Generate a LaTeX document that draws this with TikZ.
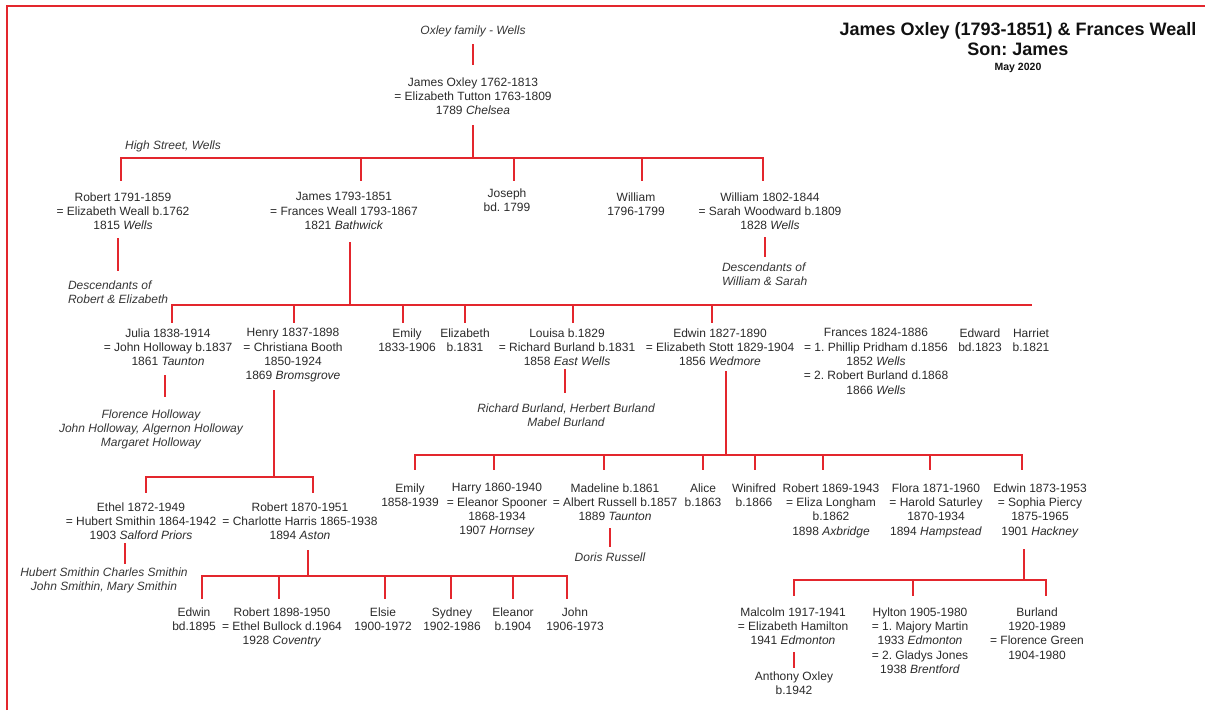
\documentclass[tikz,border=0pt]{standalone}
\usepackage{fontspec}
\setmainfont{Liberation Sans}
\usepackage{xcolor}
\usepackage{tikz}
\definecolor{cline}{HTML}{E3262D}
\definecolor{ctext}{HTML}{2A2A2A}
\definecolor{cnote}{HTML}{363636}
\definecolor{ctitle}{HTML}{111111}
\frenchspacing
\tikzset{
  person/.style={anchor=north,align=center,text=ctext,inner sep=2pt,outer sep=2pt,
    font=\fontsize{12}{14.3}\selectfont},
  kids/.style={person,text=cnote,font=\fontsize{12}{14.3}\selectfont\itshape},
  heading/.style={anchor=base,text=ctitle,font=\fontsize{18}{20}\selectfont\bfseries},
  kin/.style={draw=cline,line width=1.6pt,line cap=rect},
}
\begin{document}
\begin{tikzpicture}[x=1pt,y=-1pt]
  \useasboundingbox (0,0) rectangle (1205,710);
  \draw[cline,line width=2pt] (7,710) -- (7,6) -- (1205,6);

  \node[heading] (title) at (1018,35) {James Oxley (1793-1851) \& Frances Weall};
  \node[heading] (son) at (1018,55) {Son: James};
  \node[heading,font=\fontsize{10.5}{12}\selectfont\bfseries] (date) at (1018,70) {May 2020};

  \node[kids] (famnote) at (473,21.6) {Oxley family - Wells};
  \node[person] (root) at (473,73.6) {James Oxley 1762-1813\\= Elizabeth Tutton 1763-1809\\1789 \textit{Chelsea}};
  \node[kids] (highst) at (173,136.6) {High Street, Wells};
  \coordinate (bar1) at (473,158);
  \draw[kin,shorten <=4pt,shorten >=9.7pt] (famnote.south) -- (root.north);
  \draw[kin,shorten <=6.6pt] (root.south) -- (bar1);

  \node[person] (robert) at (123,188.6) {Robert 1791-1859\\= Elizabeth Weall b.1762\\1815 \textit{Wells}};
  \node[person] (james) at (344,188.6) {James 1793-1851\\= Frances Weall 1793-1867\\1821 \textit{Bathwick}};
  \node[person] (joseph) at (507,184.6) {Joseph\\bd. 1799};
  \node[person] (william) at (636,188.6) {William\\1796-1799};
  \node[person] (williamb) at (770,188.6) {William 1802-1844\\= Sarah Woodward b.1809\\1828 \textit{Wells}};
  \draw[kin,shorten <=8.7pt,shorten >=8.7pt] ([xshift=-2pt]robert.north) |- (bar1) -| ([xshift=-7pt]williamb.north);
  \draw[kin,shorten <=8.7pt] ([xshift=17pt]james.north) -- ([xshift=17pt]james.north |- bar1);
  \draw[kin,shorten <=4.7pt] ([xshift=7pt]joseph.north) -- ([xshift=7pt]joseph.north |- bar1);
  \draw[kin,shorten <=8.7pt] ([xshift=6pt]william.north) -- ([xshift=6pt]william.north |- bar1);

  \node[kids,anchor=north west,align=left] (rdesc) at (64,276.6) {Descendants of\\Robert \& Elizabeth};
  \node[kids,anchor=north west,align=left] (wdesc) at (718,258.6) {Descendants of\\William \& Sarah};
  \draw[kin,shorten <=4.6pt,shorten >=6.7pt] ([xshift=-5pt]robert.south) -- ([xshift=-5pt]robert.south |- rdesc.north);
  \draw[kin,shorten <=3.6pt,shorten >=2.7pt] ([xshift=-5pt]williamb.south) -- ([xshift=-5pt]williamb.south |- wdesc.north);

  \coordinate (bar2) at (350,305);
  \draw[kin,shorten <=8.6pt] ([xshift=6pt]james.south) -- (bar2);
  \node[person] (julia) at (168,324.6) {Julia 1838-1914\\= John Holloway b.1837\\1861 \textit{Taunton}};
  \node[person] (henry) at (293,324.6) {Henry 1837-1898\\= Christiana Booth\\1850-1924\\1869 \textit{Bromsgrove}};
  \node[person] (emily) at (407,324.6) {Emily\\1833-1906};
  \node[person] (eliz) at (465,324.6) {Elizabeth\\b.1831};
  \node[person] (louisa) at (567,324.6) {Louisa b.1829\\= Richard Burland b.1831\\1858 \textit{East Wells}};
  \node[person] (edwin) at (720,324.6) {Edwin 1827-1890\\= Elizabeth Stott 1829-1904\\1856 \textit{Wedmore}};
  \node[person] (frances) at (876,324.6) {Frances 1824-1886\\= 1. Phillip Pridham d.1856\\1852 \textit{Wells}\\= 2. Robert Burland d.1868\\1866 \textit{Wells}};
  \node[person] (edward) at (980,324.6) {Edward\\bd.1823};
  \node[person] (harriet) at (1031,324.6) {Harriet\\b.1821};
  \draw[kin,shorten <=2.7pt] ([xshift=4pt]julia.north) |- (bar2) -- (harriet.north |- bar2);
  \draw[kin,shorten <=2.7pt] ([xshift=1pt]henry.north) -- ([xshift=1pt]henry.north |- bar2);
  \draw[kin,shorten <=2.7pt] ([xshift=-4pt]emily.north) -- ([xshift=-4pt]emily.north |- bar2);
  \draw[kin,shorten <=2.7pt] (eliz.north) -- (eliz.north |- bar2);
  \draw[kin,shorten <=2.7pt] ([xshift=6pt]louisa.north) -- ([xshift=6pt]louisa.north |- bar2);
  \draw[kin,shorten <=2.7pt] ([xshift=-8pt]edwin.north) -- ([xshift=-8pt]edwin.north |- bar2);

  \node[kids] (hold) at (151,405.6) {Florence Holloway\\John Holloway, Algernon Holloway\\Margaret Holloway};
  \node[kids] (burl) at (566,399.6) {Richard Burland, Herbert Burland\\Mabel Burland};
  \draw[kin,shorten <=5.6pt,shorten >=9.7pt] ([xshift=-3pt]julia.south) -- ([xshift=-3pt]julia.south |- hold.north);
  \draw[kin,shorten >=7.7pt] ([xshift=-2pt]louisa.south) -- ([xshift=-2pt]louisa.south |- burl.north);

  \coordinate (bar3) at (274,477);
  \draw[kin,shorten <=4pt] ([xshift=-19pt]henry.south) -- (bar3);
  \node[person] (ethel) at (141,498.6) {Ethel 1872-1949\\= Hubert Smithin 1864-1942\\1903 \textit{Salford Priors}};
  \node[person] (robertb) at (300,498.6) {Robert 1870-1951\\= Charlotte Harris 1865-1938\\1894 \textit{Aston}};
  \draw[kin,shorten <=6.7pt,shorten >=6.7pt] ([xshift=5pt]ethel.north) |- (bar3) -| ([xshift=13pt]robertb.north);
  \node[kids] (smith) at (104,563.6) {Hubert Smithin Charles Smithin\\John Smithin, Mary Smithin};
  \draw[kin] ([xshift=-16pt]ethel.south) -- ([xshift=-16pt]ethel.south |- smith.north);

  \coordinate (bar4) at (308,576);
  \draw[kin,shorten <=6.6pt] ([xshift=8pt]robertb.south) -- (bar4);
  \node[person] (edwinb) at (194,603.6) {Edwin\\bd.1895};
  \node[person] (robertc) at (282,603.6) {Robert 1898-1950\\= Ethel Bullock d.1964\\1928 \textit{Coventry}};
  \node[person] (elsie) at (383,603.6) {Elsie\\1900-1972};
  \node[person] (sydney) at (452,603.6) {Sydney\\1902-1986};
  \node[person] (eleanor) at (513,603.6) {Eleanor\\b.1904};
  \node[person] (john) at (575,603.6) {John\\1906-1973};
  \draw[kin,shorten <=5.7pt,shorten >=5.7pt] ([xshift=8pt]edwinb.north) |- (bar4) -| ([xshift=-8pt]john.north);
  \draw[kin,shorten <=5.7pt] ([xshift=-3pt]robertc.north) -- ([xshift=-3pt]robertc.north |- bar4);
  \draw[kin,shorten <=5.7pt] ([xshift=2pt]elsie.north) -- ([xshift=2pt]elsie.north |- bar4);
  \draw[kin,shorten <=5.7pt] ([xshift=-1pt]sydney.north) -- ([xshift=-1pt]sydney.north |- bar4);
  \draw[kin,shorten <=5.7pt] (eleanor.north) -- (eleanor.north |- bar4);

  \coordinate (bar5) at (726,455);
  \draw[kin,shorten <=1.6pt] ([xshift=6pt]edwin.south) -- (bar5);
  \node[person] (emilyb) at (410,479.6) {Emily\\1858-1939};
  \node[person] (harry) at (497,479.6) {Harry 1860-1940\\= Eleanor Spooner\\1868-1934\\1907 \textit{Hornsey}};
  \node[person] (madeline) at (615,479.6) {Madeline b.1861\\= Albert Russell b.1857\\1889 \textit{Taunton}};
  \node[person] (alice) at (703,479.6) {Alice\\b.1863};
  \node[person] (winifred) at (754,479.6) {Winifred\\b.1866};
  \node[person] (robertd) at (831,479.6) {Robert 1869-1943\\= Eliza Longham\\b.1862\\1898 \textit{Axbridge}};
  \node[person] (flora) at (936,479.6) {Flora 1871-1960\\= Harold Saturley\\1870-1934\\1894 \textit{Hampstead}};
  \node[person] (edwinc) at (1040,479.6) {Edwin 1873-1953\\= Sophia Piercy\\1875-1965\\1901 \textit{Hackney}};
  \draw[kin,shorten <=10.7pt,shorten >=10.7pt] ([xshift=5pt]emilyb.north) |- (bar5) -| ([xshift=-18pt]edwinc.north);
  \draw[kin,shorten <=10.7pt] ([xshift=-3pt]harry.north) -- ([xshift=-3pt]harry.north |- bar5);
  \draw[kin,shorten <=10.7pt] ([xshift=-11pt]madeline.north) -- ([xshift=-11pt]madeline.north |- bar5);
  \draw[kin,shorten <=10.7pt] (alice.north) -- (alice.north |- bar5);
  \draw[kin,shorten <=10.7pt] ([xshift=1pt]winifred.north) -- ([xshift=1pt]winifred.north |- bar5);
  \draw[kin,shorten <=10.7pt] ([xshift=-8pt]robertd.north) -- ([xshift=-8pt]robertd.north |- bar5);
  \draw[kin,shorten <=10.7pt] ([xshift=-6pt]flora.north) -- ([xshift=-6pt]flora.north |- bar5);
  \node[kids] (doris) at (610,548.6) {Doris Russell};
  \draw[kin,shorten <=3.6pt,shorten >=2.7pt] ([xshift=-5pt]madeline.south) -- ([xshift=-5pt]madeline.south |- doris.north);

  \coordinate (bar6) at (1024,580);
  \draw[kin,shorten <=8pt] ([xshift=-16pt]edwinc.south) -- (bar6);
  \node[person] (malcolm) at (793,603.6) {Malcolm 1917-1941\\= Elizabeth Hamilton\\1941 \textit{Edmonton}};
  \node[person] (hylton) at (920,603.6) {Hylton 1905-1980\\= 1. Majory Martin\\1933 \textit{Edmonton}\\= 2. Gladys Jones\\1938 \textit{Brentford}};
  \node[person] (burland) at (1037,603.6) {Burland\\1920-1989\\= Florence Green\\1904-1980};
  \draw[kin,shorten <=8.7pt,shorten >=8.7pt] ([xshift=1pt]malcolm.north) |- (bar6) -| ([xshift=9pt]burland.north);
  \draw[kin,shorten <=8.7pt] ([xshift=-7pt]hylton.north) -- ([xshift=-7pt]hylton.north |- bar6);
  \node[person] (anthony) at (794,667.6) {Anthony Oxley\\b.1942};
  \draw[kin,shorten <=3.6pt] ([xshift=1pt]malcolm.south) -- ([xshift=1pt]malcolm.south |- anthony.north);
\end{tikzpicture}
\end{document}
